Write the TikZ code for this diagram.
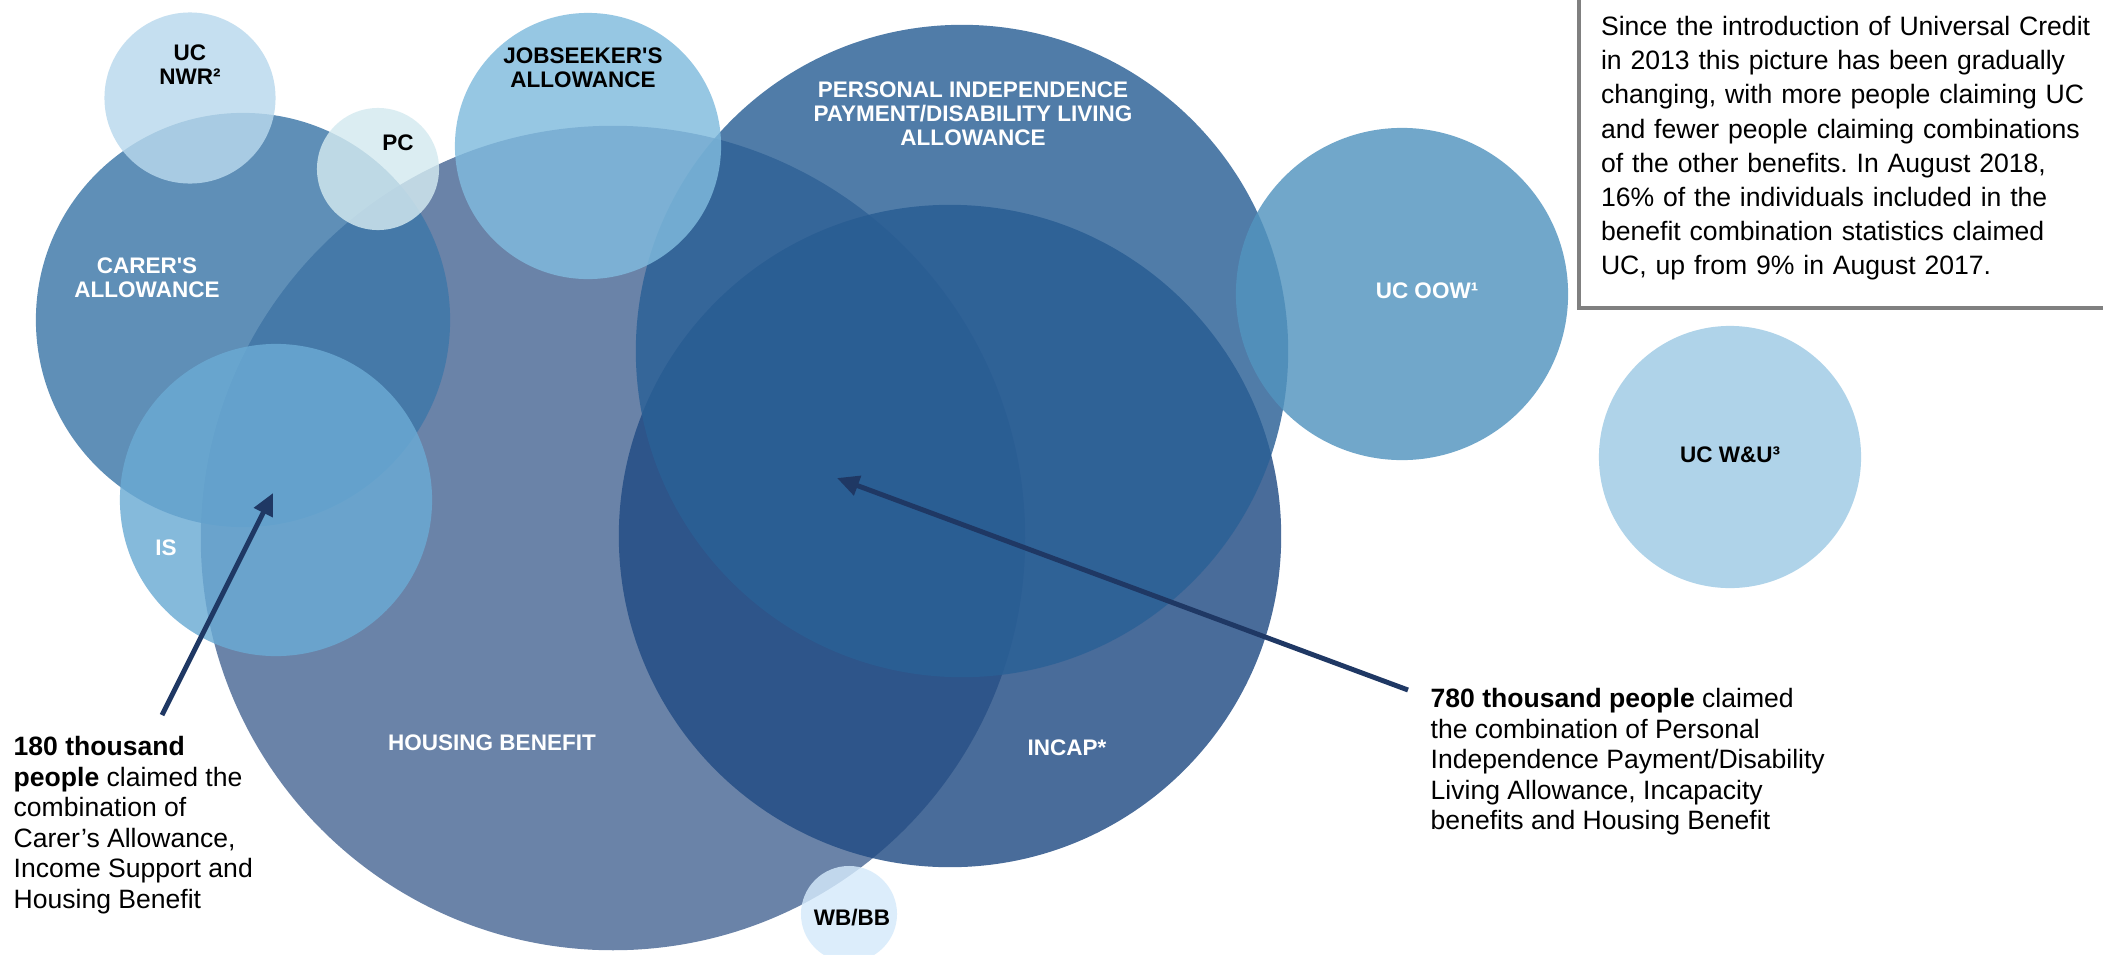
\documentclass[tikz,border=0pt]{standalone}
\usepackage{fontspec}
\setmainfont{Liberation Sans}
\newfontfamily\bubblefont{Liberation Sans}
\usepackage{xcolor}
\usepackage{tikz}
\usetikzlibrary{arrows.meta}
\frenchspacing
\definecolor{hbcol}{HTML}{4A6895}
\definecolor{incapcol}{HTML}{224C84}
\definecolor{pipcol}{HTML}{2A6096}
\definecolor{carercol}{HTML}{3D77A8}
\definecolor{iscol}{HTML}{6BABD4}
\definecolor{jsacol}{HTML}{80BBDE}
\definecolor{nwrcol}{HTML}{B9D9ED}
\definecolor{pccol}{HTML}{D4EAF0}
\definecolor{oowcol}{HTML}{5294BF}
\definecolor{wucol}{HTML}{9ECAE5}
\definecolor{wbcol}{HTML}{D5EAFB}
\definecolor{arrownavy}{HTML}{1F3864}
\definecolor{boxgray}{HTML}{808080}
\tikzstyle{bubble}=[shape=circle, draw=none, fill opacity=0.82, inner sep=0pt]
\tikzstyle{whitelabel}=[text=white, font=\bubblefont\bfseries\fontsize{6.4}{6.8}\selectfont, align=center, inner sep=0pt]
\tikzstyle{blacklabel}=[text=black, font=\bubblefont\bfseries\fontsize{6.4}{6.8}\selectfont, align=center, inner sep=0pt]
\tikzstyle{notetext}=[text=black, font=\fontsize{7.55}{8.65}\selectfont, align=left, inner sep=0pt]
\tikzstyle{pointer}=[-{Triangle[length=0.22cm, width=0.2cm]}, line width=1.4pt, color=arrownavy]

\begin{document}
\begin{tikzpicture}[x=0.01cm, y=-0.01cm]
\clip (0,0) rectangle (2103,954);
\fill [white] (0,0) rectangle (2103,954);

\node [bubble, fill=hbcol, minimum size=8.24cm] (hb) at (613,538) {};
\node [bubble, fill=incapcol, minimum size=6.62cm] (incap) at (950,536) {};
\node [bubble, fill=pipcol, minimum size=6.52cm] (pip) at (962,351) {};
\node [bubble, fill=carercol, minimum size=4.14cm] (carer) at (243,320) {};
\node [bubble, fill=iscol, minimum size=3.12cm] (is) at (276,500) {};
\node [bubble, fill=jsacol, minimum size=2.66cm] (jsa) at (588,146) {};
\node [bubble, fill=nwrcol, minimum size=1.71cm] (nwr) at (190,98) {};
\node [bubble, fill=pccol, minimum size=1.22cm] (pc) at (378,169) {};
\node [bubble, fill=oowcol, minimum size=3.32cm] (oow) at (1402,294) {};
\node [bubble, fill=wucol, minimum size=2.62cm] (wu) at (1730,457) {};
\node [bubble, fill=wbcol, minimum size=0.96cm] (wbbb) at (849,914) {};

\node [blacklabel] (nwrlabel) at (190,65) {UC\\NWR²};
\node [blacklabel] (pclabel) at (398,143) {PC};
\node [blacklabel] (jsalabel) at (583,68) {JOBSEEKER'S\\ALLOWANCE};
\node [whitelabel] (piplabel) at (973,114) {PERSONAL INDEPENDENCE\\PAYMENT/DISABILITY LIVING\\ALLOWANCE};
\node [whitelabel] (carerlabel) at (147,278) {CARER'S\\ALLOWANCE};
\node [whitelabel] (islabel) at (166,548) {IS};
\node [whitelabel] (hblabel) at (492,743) {HOUSING BENEFIT};
\node [whitelabel] (incaplabel) at (1067,748) {INCAP*};
\node [whitelabel] (oowlabel) at (1427,291) {UC OOW¹};
\node [blacklabel] (wulabel) at (1730,455) {UC W\&U³};
\node [blacklabel] (wblabel) at (852,918) {WB/BB};

\node [draw=boxgray, line width=1.4pt, fill=white, text=black, text width=5.3cm, align=left, inner xsep=0.22cm, inner ysep=0.28cm, outer sep=0pt, anchor=south west, font=\fontsize{7.56}{9.7}\selectfont] (summary) at (1579,308) {Since the introduction of Universal Credit\\in 2013 this picture has been gradually\\changing, with more people claiming UC\\and fewer people claiming combinations\\of the other benefits. In August 2018,\\16\% of the individuals included in the\\benefit combination statistics claimed\\UC, up from 9\% in August 2017.};

\node [notetext, anchor=north west] (note180) at (13,736) {\textbf{180 thousand}\\\textbf{people} claimed the\\combination of\\Carer’s Allowance,\\Income Support and\\Housing Benefit};
\node [notetext, anchor=north west] (note780) at (1430,688) {\textbf{780 thousand people} claimed\\the combination of Personal\\Independence Payment/Disability\\Living Allowance, Incapacity\\benefits and Housing Benefit};

\coordinate (from180) at (162,715);
\coordinate (to180) at (273,493);
\coordinate (from780) at (1408,690);
\coordinate (to780) at (837,478);
\draw [pointer] (from180) -- (to180);
\draw [pointer] (from780) -- (to780);
\end{tikzpicture}
\end{document}
